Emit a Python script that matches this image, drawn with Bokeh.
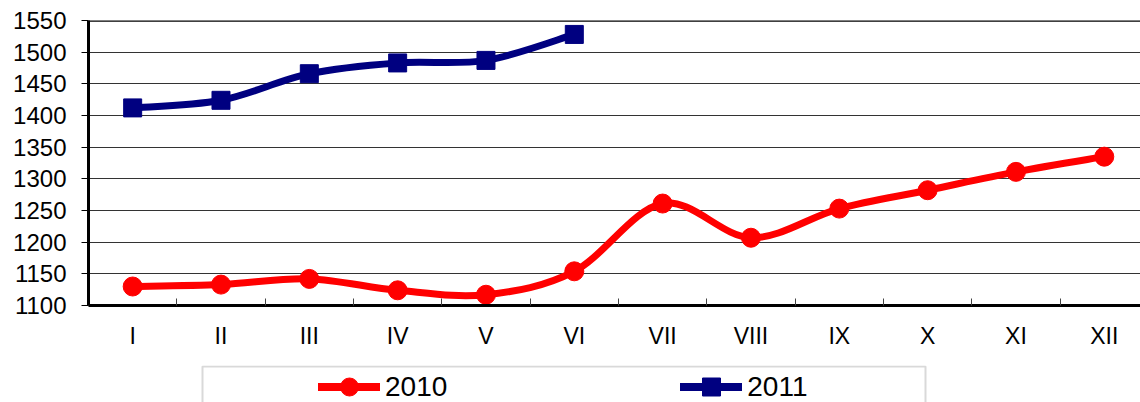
from bokeh.plotting import figure
from bokeh.layouts import column
from bokeh.models import (FixedTicker, Legend, LegendItem, BoxAnnotation, Span,
                          ColumnDataSource, Range1d)
from bokeh.embed import file_html
from bokeh.resources import INLINE

months = ["I", "II", "III", "IV", "V", "VI", "VII", "VIII", "IX", "X", "XI", "XII"]
values_2010 = [1130, 1133, 1142, 1124, 1117, 1154, 1261, 1207, 1253, 1282, 1311, 1335]
values_2011 = [1412, 1424, 1466, 1483, 1487, 1528]
y_ticks = [1100, 1150, 1200, 1250, 1300, 1350, 1400, 1450, 1500, 1550]
series_labels = ["2010", "2011"]

RED = "#FF0000"
NAVY = "#000080"
FONT = "Liberation Sans"
NAN = float("nan")


def smooth(xs, ys):
    """Bezier segments (Catmull-Rom style, like a spreadsheet 'smoothed line')."""
    n = len(xs)
    d = dict(x0=[], y0=[], x1=[], y1=[], cx0=[], cy0=[], cx1=[], cy1=[])
    for i in range(n - 1):
        xp, yp = (xs[i - 1], ys[i - 1]) if i > 0 else (xs[i], ys[i])
        xn, yn = (xs[i + 2], ys[i + 2]) if i + 2 < n else (xs[i + 1], ys[i + 1])
        d["x0"].append(xs[i]); d["y0"].append(ys[i])
        d["x1"].append(xs[i + 1]); d["y1"].append(ys[i + 1])
        d["cx0"].append(xs[i] + (xs[i + 1] - xp) / 6)
        d["cy0"].append(ys[i] + (ys[i + 1] - yp) / 6)
        d["cx1"].append(xs[i + 1] - (xn - xs[i]) / 6)
        d["cy1"].append(ys[i + 1] - (yn - ys[i]) / 6)
    return ColumnDataSource(d)


# ---------------- main chart ----------------
p = figure(width=1140, height=365, output_backend="svg", toolbar_location=None,
           x_range=Range1d(0.5, 12.41), y_range=Range1d(1100, 1550),
           min_border_left=88, min_border_right=0, min_border_top=20,
           min_border_bottom=60)
p.outline_line_color = None
p.xgrid.grid_line_color = None
p.ygrid.grid_line_color = "#333333"
p.ygrid.grid_line_width = 1.2
p.ygrid.ticker = FixedTicker(ticks=y_ticks)

x10 = list(range(1, len(values_2010) + 1))
x11 = list(range(1, len(values_2011) + 1))

p.bezier(x0="x0", y0="y0", x1="x1", y1="y1", cx0="cx0", cy0="cy0", cx1="cx1", cy1="cy1",
         source=smooth(x10, values_2010), line_color=RED, line_width=7, line_cap="round")
p.bezier(x0="x0", y0="y0", x1="x1", y1="y1", cx0="cx0", cy0="cy0", cx1="cx1", cy1="cy1",
         source=smooth(x11, values_2011), line_color=NAVY, line_width=7, line_cap="round")

p.scatter(x10, values_2010, marker="circle", size=19, fill_color=RED, line_color=RED)
p.scatter(x11, values_2011, marker="square", size=18, fill_color=NAVY, line_color=NAVY)

p.add_layout(Span(location=1550, dimension="width", line_color="black", line_width=2.5))

# x axis
xa = p.xaxis[0]
xa.ticker = FixedTicker(ticks=x10, minor_ticks=[i + 0.5 for i in range(len(months))])
xa.major_label_overrides = {i + 1: m for i, m in enumerate(months)}
xa.major_tick_line_color = None
xa.major_tick_in = 0
xa.major_tick_out = 0
xa.minor_tick_in = 7
xa.minor_tick_out = 0
xa.minor_tick_line_color = "#444444"
xa.minor_tick_line_width = 1
xa.axis_line_color = "black"
xa.axis_line_width = 3
xa.major_label_text_font = FONT
xa.major_label_text_font_size = "23px"
xa.major_label_text_color = "black"
xa.major_label_standoff = 17

# y axis
ya = p.yaxis[0]
ya.ticker = FixedTicker(ticks=y_ticks)
ya.major_tick_in = 0
ya.major_tick_out = 7
ya.major_tick_line_color = "black"
ya.minor_tick_line_color = None
ya.axis_line_color = "black"
ya.axis_line_width = 3
ya.major_label_text_font = FONT
ya.major_label_text_font_size = "24px"
ya.major_label_text_color = "black"
ya.major_label_standoff = 15

# ---------------- legend strip (cut off at the bottom, as in the reference) ----------------
q = figure(width=1140, height=37, output_backend="svg", toolbar_location=None,
           x_range=Range1d(0, 1), y_range=Range1d(0, 1),
           x_axis_type=None, y_axis_type=None,
           min_border_left=0, min_border_right=0, min_border_top=0, min_border_bottom=0)
q.outline_line_color = None
q.grid.grid_line_color = None

q.add_layout(BoxAnnotation(left=202, right=925, top=1, bottom=90,
                           left_units="canvas", right_units="canvas",
                           top_units="canvas", bottom_units="canvas",
                           fill_color=None, line_color="#808080", line_width=2))

ql10 = q.line(x=[NAN], y=[NAN], line_color=RED, line_width=8, line_cap="round")
qs10 = q.scatter(x=[NAN], y=[NAN], marker="circle", fill_color=RED, line_color=RED)
ql11 = q.line(x=[NAN], y=[NAN], line_color=NAVY, line_width=8, line_cap="round")
qs11 = q.scatter(x=[NAN], y=[NAN], marker="square", fill_color=NAVY, line_color=NAVY)

# the strip's frame is aligned with the main chart's frame (starts at x=88)
leg = Legend(items=[LegendItem(label=series_labels[0], renderers=[ql10, qs10]),
                    LegendItem(label=series_labels[1], renderers=[ql11, qs11])],
             location=(230, -7), orientation="horizontal",
             glyph_width=62, glyph_height=45, label_standoff=5, label_width=62,
             spacing=233, padding=0, border_line_color=None,
             background_fill_alpha=0,
             label_text_font=FONT, label_text_font_size="28px",
             label_text_color="black")
q.add_layout(leg, "center")

layout = column(p, q, spacing=0)
open("out.html", "w").write(file_html(layout, INLINE))
